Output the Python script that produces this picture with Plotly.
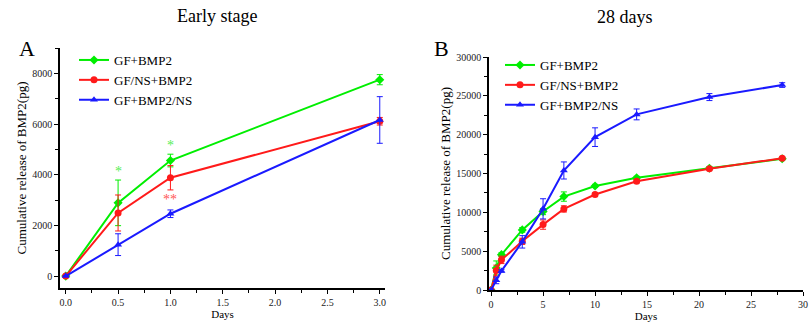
import plotly.graph_objects as go

# ---- Data ----
series_names = ["GF+BMP2", "GF/NS+BMP2", "GF+BMP2/NS"]
series_colors = ["#00ee00", "#ff1a1a", "#1a1aff"]
series_symbols = ["diamond", "circle", "triangle-up"]

days_a = [0, 0.5, 1.0, 3.0]
a_gf_bmp2 = [0, 2890, 4560, 7750]
a_gf_bmp2_err = [0, 900, 250, 200]
a_gfns_bmp2 = [0, 2490, 3880, 6110]
a_gfns_bmp2_err = [0, 710, 480, 150]
a_gf_bmp2ns = [0, 1240, 2460, 6160]
a_gf_bmp2ns_err = [0, 430, 150, 920]

days_b = [0, 0.5, 1, 3, 5, 7, 10, 14, 21, 28]
b_gf_bmp2 = [0, 2840, 4550, 7740, 10100, 12030, 13400, 14440, 15680, 16890]
b_gf_bmp2_err = [0, 900, 250, 300, 400, 600, 200, 200, 200, 150]
b_gfns_bmp2 = [0, 2500, 3880, 6270, 8420, 10440, 12290, 14000, 15600, 16970]
b_gfns_bmp2_err = [0, 700, 480, 400, 600, 400, 200, 200, 150, 150]
b_gf_bmp2ns = [0, 1240, 2460, 6200, 10450, 15390, 19680, 22610, 24840, 26390]
b_gf_bmp2ns_err = [0, 430, 150, 800, 1300, 1100, 1200, 700, 450, 300]

titles = ["Early stage", "28 days"]
panel_labels = ["A", "B"]
y_title = "Cumulative release of BMP2(pg)"
x_title = "Days"

FONT = "Liberation Serif"

fig = go.Figure()

a_vals = [(a_gf_bmp2, a_gf_bmp2_err), (a_gfns_bmp2, a_gfns_bmp2_err), (a_gf_bmp2ns, a_gf_bmp2ns_err)]
b_vals = [(b_gf_bmp2, b_gf_bmp2_err), (b_gfns_bmp2, b_gfns_bmp2_err), (b_gf_bmp2ns, b_gf_bmp2ns_err)]

for i, (vals, err) in enumerate(a_vals):
    fig.add_trace(go.Scatter(
        x=days_a, y=vals, name=series_names[i], mode="lines+markers",
        line=dict(color=series_colors[i], width=2),
        marker=dict(symbol=series_symbols[i], size=7, color=series_colors[i]),
        error_y=dict(type="data", array=err, color=series_colors[i], thickness=1, width=3),
        xaxis="x", yaxis="y", legend="legend",
    ))
for i, (vals, err) in enumerate(b_vals):
    fig.add_trace(go.Scatter(
        x=days_b, y=vals, name=series_names[i], mode="lines+markers",
        line=dict(color=series_colors[i], width=2),
        marker=dict(symbol=series_symbols[i], size=7, color=series_colors[i]),
        error_y=dict(type="data", array=err, color=series_colors[i], thickness=1, width=3),
        xaxis="x2", yaxis="y2", legend="legend2",
    ))

axis_common = dict(
    showline=True, linecolor="black", linewidth=1.5, mirror=False,
    ticks="outside", ticklen=4, tickwidth=1, tickcolor="black",
    showgrid=False, zeroline=False, automargin=False,
    tickfont=dict(family=FONT, size=10, color="#222"),
)
minor_common = dict(ticks="outside", ticklen=3, tickcolor="black")

W, H = 811, 322
fig.update_layout(
    width=W, height=H, margin=dict(l=0, r=0, t=0, b=0, autoexpand=False),
    plot_bgcolor="white", paper_bgcolor="white",
    font=dict(family=FONT, color="black"),
    xaxis=dict(domain=[60/W, 385/W], range=[-0.055, 3.05], dtick=0.5, tickformat=".1f",
               minor=dict(dtick=0.25, **minor_common),
               title=dict(text=x_title, font=dict(family=FONT, size=11), standoff=0),
               anchor="y", **axis_common),
    yaxis=dict(domain=[1-288/H, 1-48/H], range=[-470, 9000], dtick=2000, tickformat="d",
               minor=dict(dtick=1000, **minor_common),
               title=dict(text=y_title, font=dict(family=FONT, size=13), standoff=3),
               anchor="x", **axis_common),
    xaxis2=dict(domain=[489/W, 803/W], range=[-0.2, 30], dtick=5,
                minor=dict(dtick=2.5, **minor_common),
                title=dict(text=x_title, font=dict(family=FONT, size=11), standoff=0),
                anchor="y2", **axis_common),
    yaxis2=dict(domain=[1-290/H, 1-57/H], range=[0, 30000], dtick=5000, tickformat="d",
                minor=dict(dtick=2500, **minor_common),
                title=dict(text=y_title, font=dict(family=FONT, size=13), standoff=3),
                anchor="x2", **axis_common),
    legend=dict(x=74/W, y=1-45/H, xanchor="left", yanchor="top",
                font=dict(family=FONT, size=13), bgcolor="rgba(0,0,0,0)",
                tracegroupgap=0, itemwidth=30),
    legend2=dict(x=500/W, y=1-50/H, xanchor="left", yanchor="top",
                 font=dict(family=FONT, size=13), bgcolor="rgba(0,0,0,0)",
                 tracegroupgap=0, itemwidth=30),
    showlegend=True,
)

def ann(text, x, y, size, color="black", xref="paper", yref="paper"):
    return dict(text=text, x=x, y=y, xref=xref, yref=yref, showarrow=False,
                xanchor="center", yanchor="middle",
                font=dict(family=FONT, size=size, color=color))

annotations = [
    ann(titles[0], 217/W, 1-16/H, 18),
    ann(titles[1], 625/W, 1-17/H, 18),
    ann(panel_labels[0], 27/W, 1-48/H, 22),
    ann(panel_labels[1], 441/W, 1-48/H, 22),
    ann("*", 0.5, 4140, 14, "#55ee55", "x", "y"),
    ann("*", 1.0, 5160, 14, "#55ee55", "x", "y"),
    ann("**", 1.0, 3020, 14, "#ff5555", "x", "y"),
]
fig.update_layout(annotations=annotations)

fig.write_html("out.html", config={"displayModeBar": False},
               post_script="document.body.style.margin='0px';")
